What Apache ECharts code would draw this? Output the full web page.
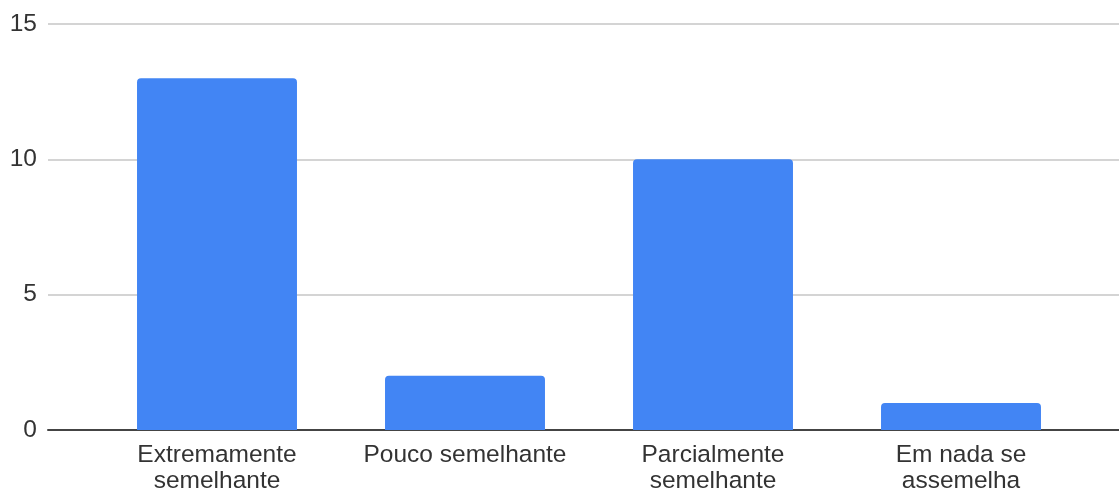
<!DOCTYPE html>
<html>
<head>
<meta charset="utf-8">
<script src="https://cdn.jsdelivr.net/npm/echarts@6/dist/echarts.min.js"></script>
<style>
  html, body { margin: 0; padding: 0; background: #fff; }
  #chart { width: 1119px; height: 492px; }
</style>
</head>
<body>
<div id="chart"></div>
<script>
const categories = ['Extremamente\nsemelhante', 'Pouco semelhante', 'Parcialmente\nsemelhante', 'Em nada se\nassemelha'];
const counts = [13, 2, 10, 1];
const yTicks = { min: 0, max: 15, interval: 5 };

const myChart = echarts.init(document.getElementById('chart'));
const fontFamily = '"Liberation Sans", Arial, sans-serif';

const option = {
  animation: false,
  grid: [
    // bars
    { left: 93, right: 34, top: 24, bottom: 62, outerBoundsMode: 'none' },
    // full-width gridlines and baseline
    { left: 48, right: 0, top: 24, bottom: 62, outerBoundsMode: 'none' }
  ],
  xAxis: [
    {
      type: 'category',
      gridIndex: 0,
      data: categories,
      axisLine: { show: false },
      axisTick: { show: false },
      axisLabel: {
        color: '#333',
        fontSize: 24.5,
        fontFamily: fontFamily,
        lineHeight: 26,
        margin: 12,
        interval: 0
      }
    },
    {
      type: 'value',
      gridIndex: 1,
      min: 0,
      max: 1,
      axisLine: { show: true, onZero: false, lineStyle: { color: '#444', width: 2 } },
      axisTick: { show: false },
      axisLabel: { show: false },
      splitLine: { show: false }
    }
  ],
  yAxis: [
    {
      type: 'value',
      gridIndex: 0,
      min: yTicks.min,
      max: yTicks.max,
      interval: yTicks.interval,
      show: false
    },
    {
      type: 'value',
      gridIndex: 1,
      min: yTicks.min,
      max: yTicks.max,
      interval: yTicks.interval,
      axisLine: { show: false },
      axisTick: { show: false },
      axisLabel: {
        color: '#333',
        fontSize: 24.5,
        fontFamily: fontFamily,
        margin: 11
      },
      splitLine: { lineStyle: { color: '#d4d4d4', width: 2 } }
    }
  ],
  series: [
    {
      type: 'bar',
      xAxisIndex: 0,
      yAxisIndex: 0,
      data: counts,
      barWidth: '64.5%',
      itemStyle: { color: '#4285F4', borderRadius: [4, 4, 0, 0] },
      z: 3
    }
  ]
};
myChart.setOption(option);
</script>
</body>
</html>
